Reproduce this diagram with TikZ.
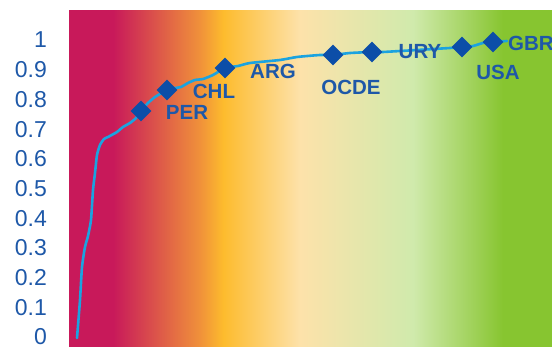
\documentclass[tikz,border=0pt]{standalone}
\usepackage{fontspec}
\setmainfont{Liberation Sans}
\usetikzlibrary{shapes.geometric, calc}

\definecolor{crimson}{RGB}{200,25,90}
\definecolor{orangeband}{RGB}{240,145,58}
\definecolor{yellowband}{RGB}{253,187,45}
\definecolor{beigeband}{RGB}{253,226,170}
\definecolor{palegreen}{RGB}{208,234,172}
\definecolor{greenband}{RGB}{135,197,48}
\definecolor{axisblue}{RGB}{30,88,168}
\definecolor{markblue}{RGB}{12,78,168}
\definecolor{lineblue}{RGB}{27,163,224}

% band colours across the plot area (25bp = left edge, 75bp = right edge)
\pgfdeclarehorizontalshading{bands}{100bp}{
    color(0bp)=(crimson); color(29.55bp)=(crimson);
    color(38.56bp)=(orangeband); color(40.94bp)=(yellowband);
    color(48.91bp)=(beigeband); color(60.61bp)=(palegreen);
    color(69.93bp)=(greenband); color(100bp)=(greenband)
}

\tikzset{
    axis-label/.style={
        anchor=east, inner sep=0pt, text=axisblue, font=\fontsize{23}{23}\selectfont
    },
    country-mark/.style={
        diamond, fill=markblue, inner sep=0pt, minimum size=21pt
    },
    country-label/.style={
        inner sep=0pt, text=axisblue, font=\fontsize{20.5}{20.5}\selectfont\bfseries
    },
    data-line/.style={
        lineblue, line width=2.6pt, line cap=round, line join=round
    },
}

\begin{document}
\begin{tikzpicture}[x=1pt, y=-1pt]

        \useasboundingbox (0,0) rectangle (552,347);

        % BACKGROUND
        \shade[shading=bands] (69,11) rectangle (552,347);

        % AXIS LABELS
        \foreach \v/\t in {0/0, 1/0.1, 2/0.2, 3/0.3, 4/0.4, 5/0.5, 6/0.6, 7/0.7, 8/0.8, 9/0.9, 10/1}
            \node[axis-label] (Y\v) at (47, 337 - 29.7*\v) {\t};

        % DATA POINTS
        \coordinate (PPER)  at (141,111);
        \coordinate (PCHL)  at (167,90);
        \coordinate (PARG)  at (225,68);
        \coordinate (POCDE) at (333,55);
        \coordinate (PURY)  at (372,52);
        \coordinate (PUSA)  at (462,47);
        \coordinate (PGBR)  at (493,42);

        % DATA LINE
        \draw[data-line] plot[smooth, tension=0.35] coordinates {
            (77,338) (80,300) (82,267) (85,247) (88,236) (91,220) (93,190)
            (95,173) (97,155) (100,145) (104,139) (108,137) (117,132)
            (123,127) (130,123) (136,118) (PPER) (148,103) (155,97)
            (160,94) (PCHL) (175,88) (181,87) (188,83) (195,80) (203,79)
            (213,75) (PARG) (238,66) (250,63) (280,60) (297,57) (320,55)
            (POCDE) (350,53) (PURY) (383,52) (450,48) (PUSA) (473,46)
            (483,43) (PGBR) (507,41)};

        % MARKERS
        \foreach \c in {PER, CHL, ARG, OCDE, URY, USA, GBR}
            \node[country-mark] (M\c) at (P\c) {};

        % LABELS
        \node[country-label]             (LPER)  at (187,112) {PER};
        \node[country-label]             (LCHL)  at (214,91)  {CHL};
        \node[country-label]             (LARG)  at (273,71)  {ARG};
        \node[country-label]             (LOCDE) at (351,87)  {OCDE};
        \node[country-label]             (LURY)  at (420,52)  {URY};
        \node[country-label]             (LUSA)  at (498,72)  {USA};
        \node[country-label, anchor=west] (LGBR) at (508,43)  {GBR};

    \end{tikzpicture}
\end{document}
